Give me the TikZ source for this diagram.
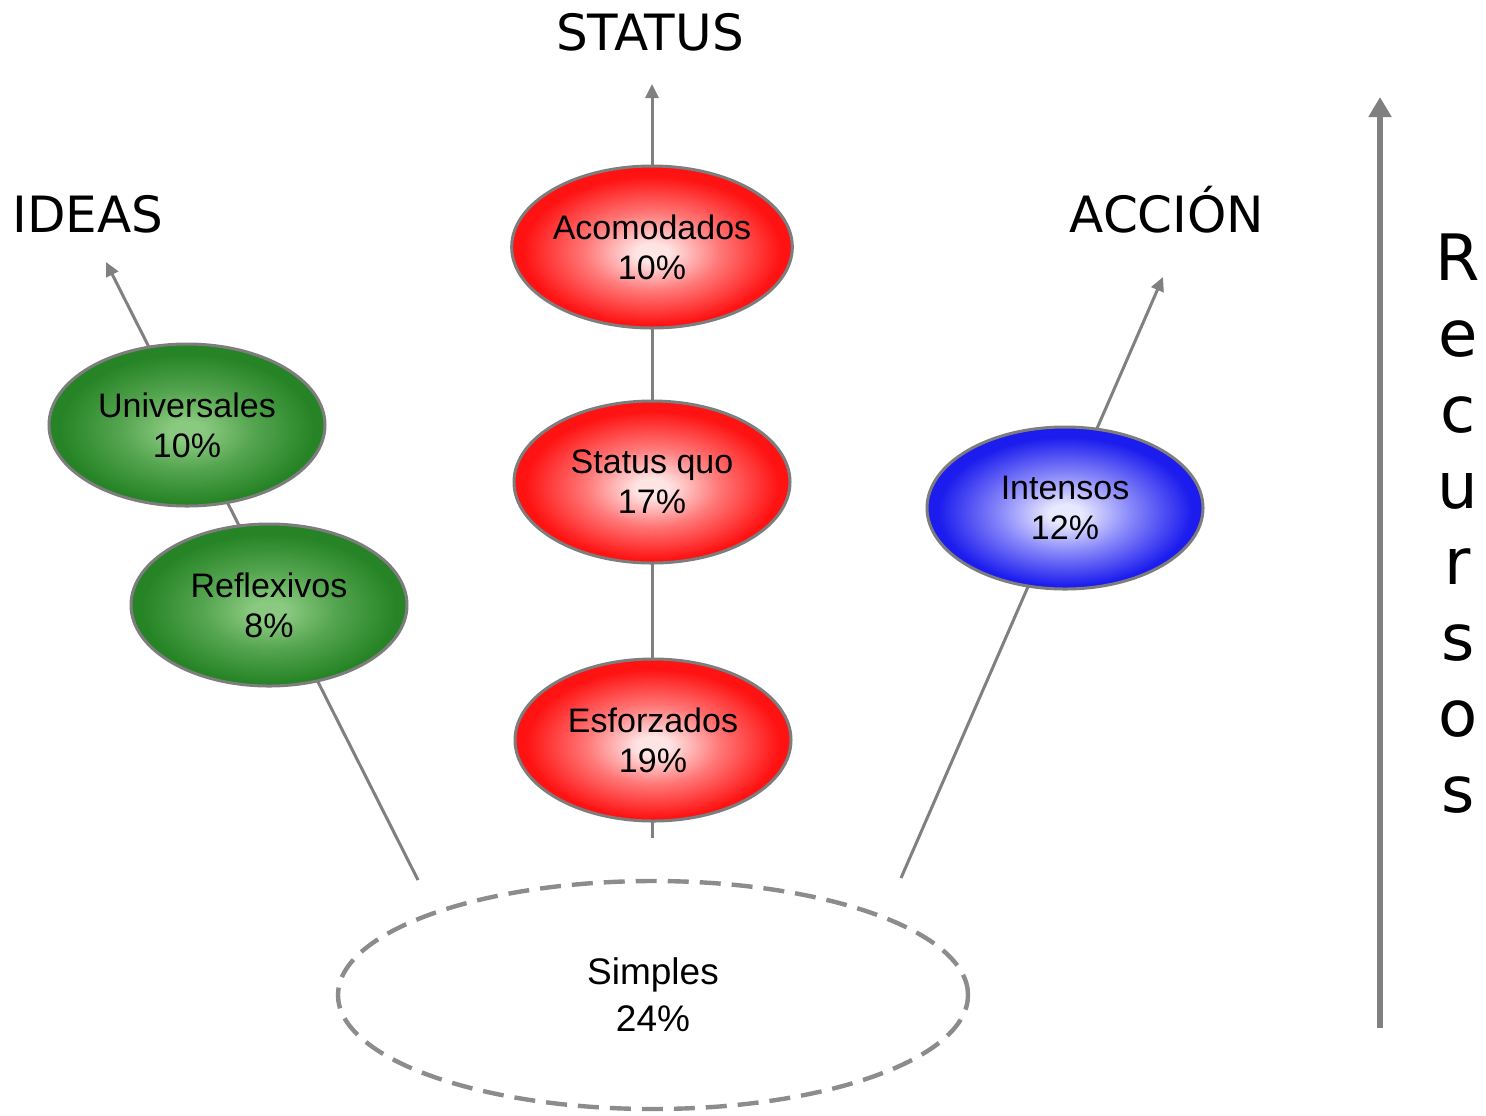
\documentclass[tikz,border=0pt]{standalone}
\usepackage{fontspec}
\setmainfont{Liberation Sans}
\newfontfamily\headfont{DejaVu Sans}
\usetikzlibrary{shapes.geometric,arrows.meta}

\definecolor{axisgray}{RGB}{128,128,128}
\definecolor{blobrim}{RGB}{125,125,125}
\definecolor{dashgray}{RGB}{140,140,140}
\definecolor{redin}{RGB}{255,228,228}
\definecolor{redmid}{RGB}{255,120,120}
\definecolor{redout}{RGB}{255,18,18}
\definecolor{greenin}{RGB}{138,202,128}
\definecolor{greenmid}{RGB}{85,165,80}
\definecolor{greenout}{RGB}{38,132,38}
\definecolor{bluein}{RGB}{232,232,255}
\definecolor{bluemid}{RGB}{135,135,250}
\definecolor{blueout}{RGB}{28,28,238}

\pgfdeclareradialshading{redglow}{\pgfpoint{0bp}{-2bp}}{color(0bp)=(redin);color(3bp)=(redin);color(12bp)=(redmid);color(23bp)=(redout);color(50bp)=(redout)}
\pgfdeclareradialshading{greenglow}{\pgfpoint{0bp}{-2bp}}{color(0bp)=(greenin);color(3bp)=(greenin);color(12bp)=(greenmid);color(23bp)=(greenout);color(50bp)=(greenout)}
\pgfdeclareradialshading{blueglow}{\pgfpoint{0bp}{-2bp}}{color(0bp)=(bluein);color(3bp)=(bluein);color(12bp)=(bluemid);color(23bp)=(blueout);color(50bp)=(blueout)}

\begin{document}
\begin{tikzpicture}[x=0.5pt,y=-0.5pt,
  conn/.style={draw=axisgray, line width=1.5pt, -{Triangle[length=7pt,width=6.5pt]}},
  bigaxis/.style={draw=axisgray, line width=3pt, -{Triangle[length=10pt,width=11pt]}},
  blob/.style={ellipse, draw=blobrim, line width=1.5pt, inner sep=0pt, align=center,
    minimum width=138pt, minimum height=81pt, font=\fontsize{17}{20}\selectfont},
  redblob/.style={blob, shading=redglow},
  greenblob/.style={blob, shading=greenglow},
  blueblob/.style={blob, shading=blueglow},
  baseblob/.style={ellipse, draw=dashgray, line width=2.2pt, dash pattern=on 10.5pt off 5.5pt,
    inner sep=0pt, align=center, minimum width=315pt, minimum height=114pt,
    font=\fontsize{18.5}{23.5}\selectfont},
  heading/.style={font=\headfont\fontsize{25}{30}\selectfont, inner sep=0pt, anchor=base}
]
\useasboundingbox[fill=white] (0,0) rectangle (1486,1115);

% axis end points
\coordinate (statusBase) at (652,838);
\coordinate (statusTip) at (652,84);
\coordinate (ideasBase) at (418,880);
\coordinate (ideasTip) at (106,262);
\coordinate (accionBase) at (901,878);
\coordinate (accionTip) at (1163,277);
\coordinate (recBase) at (1380,1028);
\coordinate (recTip) at (1380,97);

% axes behind the groups
\draw[conn] (statusBase) -- (statusTip);
\draw[conn] (ideasBase) -- (ideasTip);
\draw[conn] (accionBase) -- (accionTip);
\draw[bigaxis] (recBase) -- (recTip);

% groups
\node[redblob] (acomodados) at (652,247) {Acomodados\\10\%};
\node[redblob] (statusquo) at (652,482) {Status quo\\17\%};
\node[redblob] (esforzados) at (653,740) {Esforzados\\19\%};
\node[greenblob] (universales) at (187,425) {Universales\\10\%};
\node[greenblob] (reflexivos) at (269,605) {Reflexivos\\8\%};
\node[blueblob] (intensos) at (1065,508) {Intensos\\12\%};
\node[baseblob] (simples) at (653,995) {Simples\\24\%};

% headings
\node[heading] (ideas) at (88,232) {IDEAS};
\node[heading] (status) at (650,50) {STATUS};
\node[heading] (accion) at (1167,232) {ACCIÓN};
\node[font=\headfont\fontsize{32}{38}\selectfont, align=center, inner sep=0pt, anchor=north]
  (recursos) at (1458,233) {R\\e\\c\\u\\r\\s\\o\\s};
\end{tikzpicture}
\end{document}
